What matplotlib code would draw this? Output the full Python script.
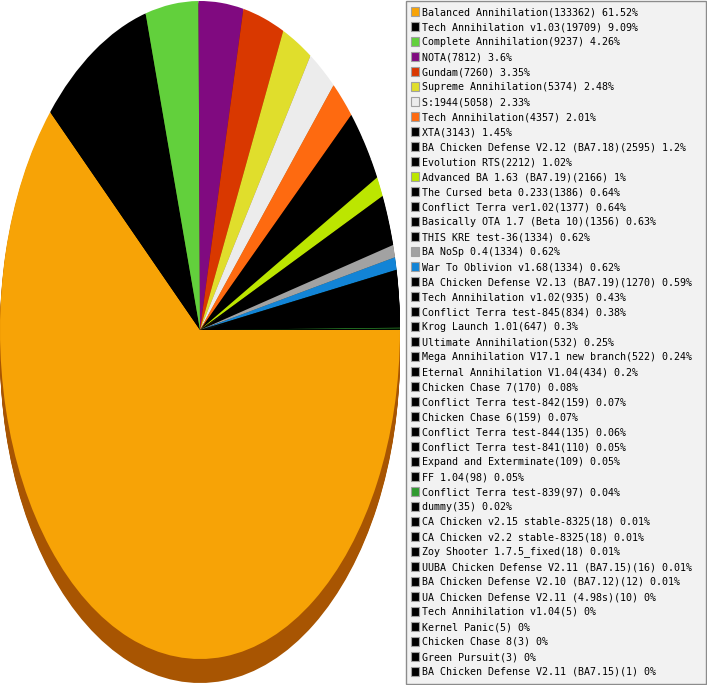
import numpy as np
import matplotlib
matplotlib.use("Agg")
from matplotlib import pyplot as plt
from matplotlib.patches import Rectangle

names = ["Balanced Annihilation", "Tech Annihilation v1.03", "Complete Annihilation", "NOTA",
         "Gundam", "Supreme Annihilation", "S:1944", "Tech Annihilation", "XTA",
         "BA Chicken Defense V2.12 (BA7.18)", "Evolution RTS", "Advanced BA 1.63 (BA7.19)",
         "The Cursed beta 0.233", "Conflict Terra ver1.02", "Basically OTA 1.7 (Beta 10)",
         "THIS KRE test-36", "BA NoSp 0.4", "War To Oblivion v1.68",
         "BA Chicken Defense V2.13 (BA7.19)", "Tech Annihilation v1.02", "Conflict Terra test-845",
         "Krog Launch 1.01", "Ultimate Annihilation", "Mega Annihilation V17.1 new branch",
         "Eternal Annihilation V1.04", "Chicken Chase 7", "Conflict Terra test-842",
         "Chicken Chase 6", "Conflict Terra test-844", "Conflict Terra test-841",
         "Expand and Exterminate", "FF 1.04", "Conflict Terra test-839", "dummy",
         "CA Chicken v2.15 stable-8325", "CA Chicken v2.2 stable-8325", "Zoy Shooter 1.7.5_fixed",
         "UUBA Chicken Defense V2.11 (BA7.15)", "BA Chicken Defense V2.10 (BA7.12)",
         "UA Chicken Defense V2.11 (4.98s)", "Tech Annihilation v1.04", "Kernel Panic",
         "Chicken Chase 8", "Green Pursuit", "BA Chicken Defense V2.11 (BA7.15)"]
counts = [133362, 19709, 9237, 7812, 7260, 5374, 5058, 4357, 3143, 2595, 2212, 2166, 1386, 1377,
          1356, 1334, 1334, 1334, 1270, 935, 834, 647, 532, 522, 434, 170, 159, 159, 135, 110,
          109, 98, 97, 35, 18, 18, 18, 16, 12, 10, 5, 5, 3, 3, 1]
pcts = ["61.52", "9.09", "4.26", "3.6", "3.35", "2.48", "2.33", "2.01", "1.45", "1.2", "1.02", "1",
        "0.64", "0.64", "0.63", "0.62", "0.62", "0.62", "0.59", "0.43", "0.38", "0.3", "0.25",
        "0.24", "0.2", "0.08", "0.07", "0.07", "0.06", "0.05", "0.05", "0.05", "0.04", "0.02",
        "0.01", "0.01", "0.01", "0.01", "0.01", "0", "0", "0", "0", "0", "0"]

# most slices are black, a few have their own colour
colors = ["#000000"] * len(names)
colors[0] = "#f7a306"
colors[2] = "#62d03c"
colors[3] = "#800a80"
colors[4] = "#d93800"
colors[5] = "#e0de2c"
colors[6] = "#ececec"
colors[7] = "#fe6a10"
colors[11] = "#bce600"
colors[16] = "#a2a2a2"
colors[17] = "#1284d6"
colors[32] = "#309a30"


def darken(c):
    rgb = np.array(matplotlib.colors.to_rgb(c))
    return tuple(rgb * np.array([0.68, 0.52, 0.3]))


W, H = 707, 685
fig = plt.figure(figsize=(W / 100, H / 100), dpi=100)
fig.patch.set_facecolor("white")

# pie drawn as an ellipse, with a shaded rim for the 3d look
ry = 329.0
depth = 24.0 / ry
ax_h = ry * (2 + depth)
ax = fig.add_axes([0, (H - 1 - ax_h) / H, 400 / W, ax_h / H])
dark = [darken(c) for c in colors]
for off in np.linspace(depth, 0.005, 20):
    ax.pie(counts, colors=dark, startangle=0, counterclock=False, center=(0, -off),
           wedgeprops=dict(linewidth=0, antialiased=True))
ax.pie(counts, colors=colors, startangle=0, counterclock=False,
       wedgeprops=dict(linewidth=0, antialiased=True))
ax.set_aspect("auto")
ax.set_xlim(-1, 1)
ax.set_ylim(-1 - depth, 1)
ax.axis("off")

# legend box on the right
lg = fig.add_axes([0, 0, 1, 1], zorder=-1)
lg.set_xlim(0, W)
lg.set_ylim(H, 0)
lg.axis("off")
lg.add_patch(Rectangle((405.5, 0.5), 300.5, 683.5, facecolor="#f2f2f2", edgecolor="#8c8c8c", lw=1))
for i, (n, c, p, col) in enumerate(zip(names, counts, pcts, colors)):
    y = 11.5 + i * 15.0
    lg.add_patch(Rectangle((410.5, y - 4.5), 8.5, 8.5, facecolor=col, edgecolor="#a0a0a0", lw=0.8))
    lg.text(422, y + 0.5, "{}({}) {}%".format(n, c, p), fontsize=7.2, family="DejaVu Sans Mono",
            va="center", ha="left", color="black")

fig.savefig("out.png", dpi=100)
